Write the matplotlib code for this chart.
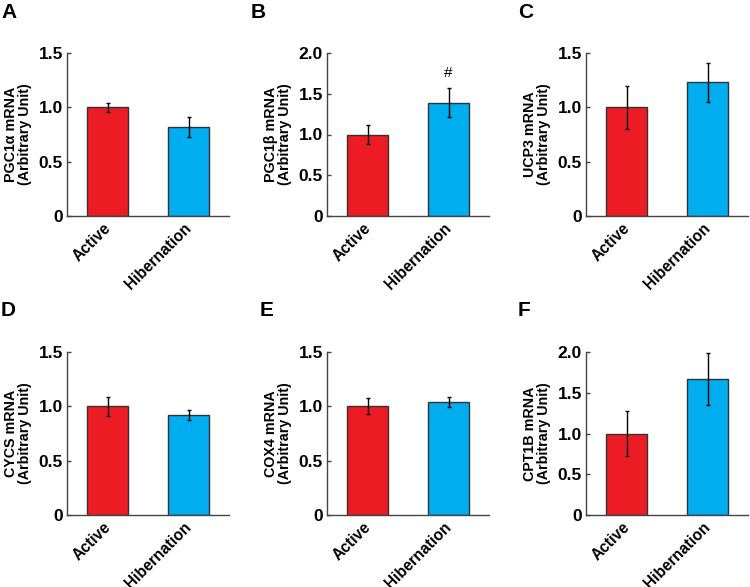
import matplotlib
matplotlib.use("Agg")
import matplotlib.pyplot as plt
from matplotlib.transforms import ScaledTranslation

plt.rcParams['font.family'] = ['Liberation Sans', 'DejaVu Sans']

groups = ["Active", "Hibernation"]
panel_letters = ["A", "B", "C", "D", "E", "F"]
genes = ["PGC1α", "PGC1β", "UCP3", "CYCS", "COX4", "CPT1B"]
means = [
    [1.00, 0.82],
    [1.00, 1.39],
    [1.00, 1.23],
    [1.00, 0.92],
    [1.00, 1.04],
    [1.00, 1.67],
]
errors = [
    [0.04, 0.09],
    [0.12, 0.18],
    [0.20, 0.18],
    [0.085, 0.045],
    [0.075, 0.05],
    [0.27, 0.32],
]
ymax = [1.5, 2.0, 1.5, 1.5, 1.5, 2.0]
ytick_sets = {
    1.5: [0, 0.5, 1.0, 1.5],
    2.0: [0, 0.5, 1.0, 1.5, 2.0],
}
ytick_labels = {
    1.5: ["0", "0.5", "1.0", "1.5"],
    2.0: ["0", "0.5", "1.0", "1.5", "2.0"],
}
annotations = {1: (1, 1.75, "#")}

colors = ["#ED1C24", "#00AEEF"]

W, H = 750, 587
fig = plt.figure(figsize=(W / 100, H / 100), dpi=100)

lefts = [67, 327, 586]
tops = [53, 352]
ax_w = 162
ax_h = 163
letter_pos = [(1, 13), (251, 13), (518, 13), (1, 310), (260, 310), (518, 310)]
label_shift = ScaledTranslation(-0.045, -0.04, fig.dpi_scale_trans)

for i in range(6):
    r, c = divmod(i, 3)
    l = lefts[c] / W
    b = (H - tops[r] - ax_h) / H
    ax = fig.add_axes([l, b, ax_w / W, ax_h / H])
    x = list(range(len(groups)))
    ax.bar(x, means[i], width=0.5, color=colors, edgecolor="#333333", linewidth=1.0,
           yerr=errors[i], error_kw=dict(ecolor="black", elinewidth=1.0, capsize=1.5, capthick=1.0))
    ax.set_xlim(-0.5, 1.5)
    ax.set_ylim(0, ymax[i])
    ax.set_yticks(ytick_sets[ymax[i]])
    ax.set_yticklabels(ytick_labels[ymax[i]], fontsize=12.5, fontweight="bold")
    ax.set_xticks(x)
    ax.set_xticklabels([])
    for xi, g in zip(x, groups):
        ax.text(xi, 0, g, rotation=45, ha="right", va="top", rotation_mode="anchor",
                fontsize=11.2, fontweight="bold", clip_on=False,
                transform=ax.get_xaxis_transform() + label_shift)
    ax.tick_params(axis="x", length=0, pad=0)
    ax.tick_params(axis="y", direction="in", length=3, width=1, color="#444444", pad=3)
    for s in ["top", "right"]:
        ax.spines[s].set_visible(False)
    for s in ["left", "bottom"]:
        ax.spines[s].set_color("#444444")
        ax.spines[s].set_linewidth(1.0)
    ax.set_ylabel(f"{genes[i]} mRNA\n(Arbitrary Unit)", fontsize=10.3, fontweight="bold",
                  linespacing=0.95, labelpad=5)
    if i in annotations:
        xa, ya, t = annotations[i]
        ax.text(xa, ya, t, ha="center", va="center", fontsize=11)
    lx, ly = letter_pos[i]
    fig.text(lx / W, 1 - ly / H, panel_letters[i], fontsize=15, fontweight="bold",
             ha="left", va="center")

fig.savefig("out.png", dpi=100)
